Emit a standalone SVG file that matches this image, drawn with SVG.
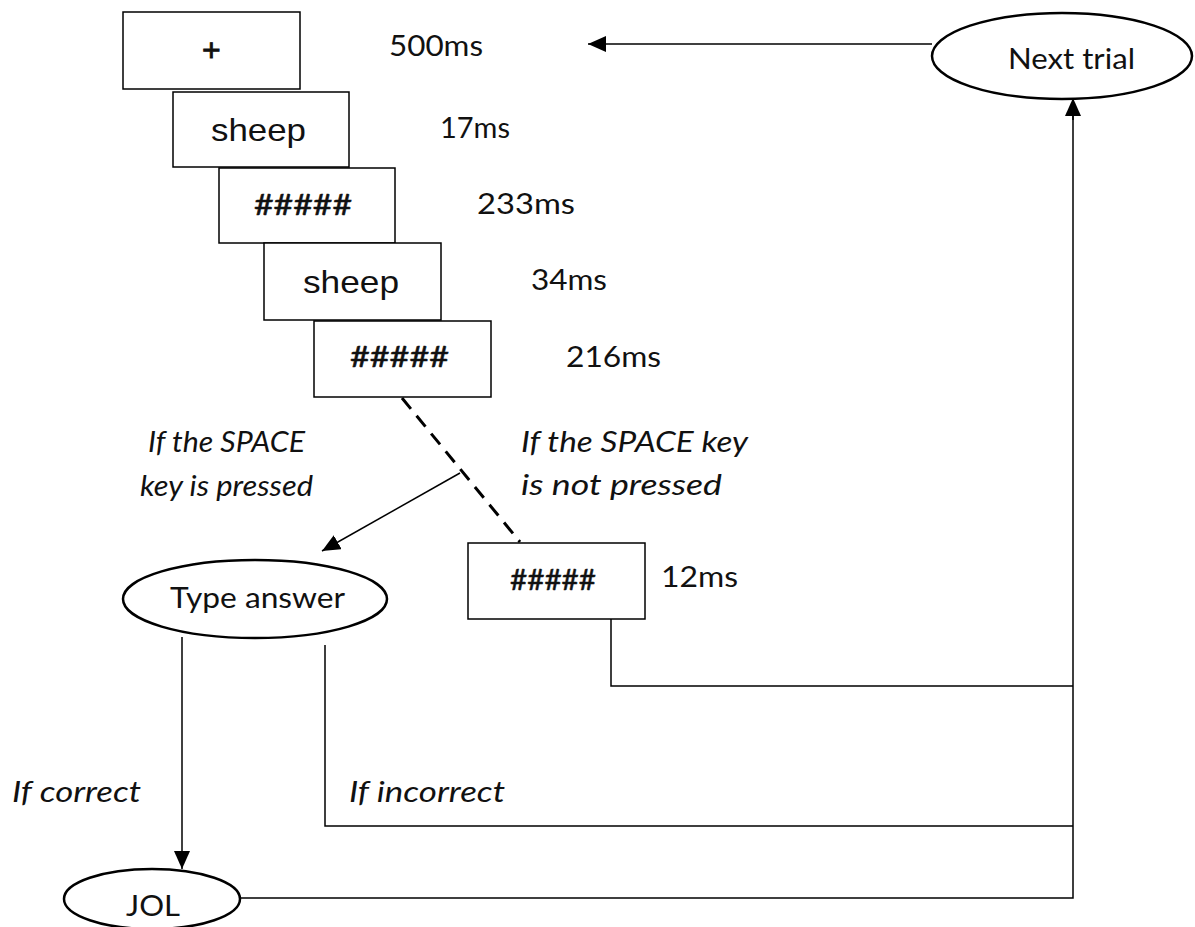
<svg xmlns="http://www.w3.org/2000/svg" width="1195" height="927" viewBox="0 0 1195 927">
<defs>
<marker id="ah" viewBox="0 0 18 16" refX="18" refY="8" markerWidth="18" markerHeight="16" markerUnits="userSpaceOnUse" orient="auto">
<path d="M0,0 L18,8 L0,16 Z" fill="#000"/>
</marker>
<style>
.box{fill:#fff;stroke:#000;stroke-width:1.5}
.ell{fill:#fff;stroke:#000;stroke-width:2.5}
.ln{fill:none;stroke:#000;stroke-width:1.5}
.dash{fill:none;stroke:#000;stroke-width:3;stroke-dasharray:14,9}
.ar{font-family:"Liberation Sans",Arial,sans-serif;font-size:32px;fill:#111}
.hash{font-family:Lato,"Open Sans",sans-serif;font-size:29px;fill:#111;stroke:#111;stroke-width:0.5}
.t{font-family:Lato,"Open Sans",sans-serif;font-size:28px;fill:#111}
.it{font-family:Lato,"Open Sans",sans-serif;font-size:28px;font-style:italic;fill:#111}
.nt{font-family:Lato,"Open Sans",sans-serif;font-size:28px;fill:#111}
</style>
</defs>
<rect width="1195" height="927" fill="#fff"/>
<g id="connectors">
<line class="ln" x1="932" y1="44" x2="588" y2="44" marker-end="url(#ah)"/>
<line class="dash" x1="402" y1="398" x2="520" y2="542"/>
<line class="ln" x1="460" y1="473" x2="322" y2="551" marker-end="url(#ah)"/>
<polyline class="ln" points="611,619 611,686 1073,686"/>
<polyline class="ln" points="325,645 325,826 1073,826"/>
<line class="ln" x1="182" y1="637" x2="182" y2="869" marker-end="url(#ah)"/>
<polyline class="ln" points="240,898 1073,898 1073,110"/>
<line class="ln" x1="1073" y1="120" x2="1073" y2="98" marker-end="url(#ah)"/>
</g>
<g id="box1"><rect class="box" x="123" y="12" width="177" height="77"/><text class="ar" x="202" y="61" style="stroke:#111;stroke-width:0.8">+</text></g>
<g id="box2"><rect class="box" x="173" y="92" width="176" height="75"/><text class="ar" x="211" y="141" textLength="95" lengthAdjust="spacingAndGlyphs">sheep</text></g>
<g id="box3"><rect class="box" x="219" y="168" width="176" height="75"/><text class="hash" x="254" y="215" textLength="98" lengthAdjust="spacingAndGlyphs">#####</text></g>
<g id="box4"><rect class="box" x="264" y="243" width="177" height="77"/><text class="ar" x="303" y="293" textLength="96" lengthAdjust="spacingAndGlyphs">sheep</text></g>
<g id="box5"><rect class="box" x="314" y="321" width="177" height="76"/><text class="hash" x="350" y="367" textLength="99" lengthAdjust="spacingAndGlyphs">#####</text></g>
<g id="box6"><rect class="box" x="468" y="543" width="177" height="76"/><text class="hash" x="510" y="590" textLength="86" lengthAdjust="spacingAndGlyphs">#####</text></g>
<g id="type-answer"><ellipse class="ell" cx="255" cy="599" rx="132" ry="39"/><text class="nt" x="170" y="608" textLength="175" lengthAdjust="spacingAndGlyphs">Type answer</text></g>
<g id="jol"><ellipse class="ell" cx="152" cy="899" rx="88" ry="30"/><text class="nt" x="126" y="916" textLength="54" lengthAdjust="spacingAndGlyphs">JOL</text></g>
<g id="next-trial"><ellipse class="ell" cx="1062" cy="56" rx="130" ry="43"/><text class="nt" x="1008" y="69" textLength="127" lengthAdjust="spacingAndGlyphs">Next trial</text></g>
<g id="labels">
<text class="t" x="389" y="56" textLength="94" lengthAdjust="spacingAndGlyphs">500ms</text>
<text class="t" x="440" y="138" textLength="70" lengthAdjust="spacingAndGlyphs">17ms</text>
<text class="t" x="477" y="214" textLength="98" lengthAdjust="spacingAndGlyphs">233ms</text>
<text class="t" x="531" y="290" textLength="76" lengthAdjust="spacingAndGlyphs">34ms</text>
<text class="t" x="566" y="367" textLength="95" lengthAdjust="spacingAndGlyphs">216ms</text>
<text class="t" x="661" y="587" textLength="77" lengthAdjust="spacingAndGlyphs">12ms</text>
<text class="it" x="148" y="452" textLength="157" lengthAdjust="spacingAndGlyphs">If the SPACE</text>
<text class="it" x="140" y="496" textLength="173" lengthAdjust="spacingAndGlyphs">key is pressed</text>
<text class="it" x="521" y="452" textLength="227" lengthAdjust="spacingAndGlyphs">If the SPACE key</text>
<text class="it" x="521" y="495" textLength="201" lengthAdjust="spacingAndGlyphs">is not  pressed</text>
<text class="it" x="12" y="802" textLength="129" lengthAdjust="spacingAndGlyphs">If correct</text>
<text class="it" x="349" y="802" textLength="156" lengthAdjust="spacingAndGlyphs">If incorrect</text>
</g>
</svg>
